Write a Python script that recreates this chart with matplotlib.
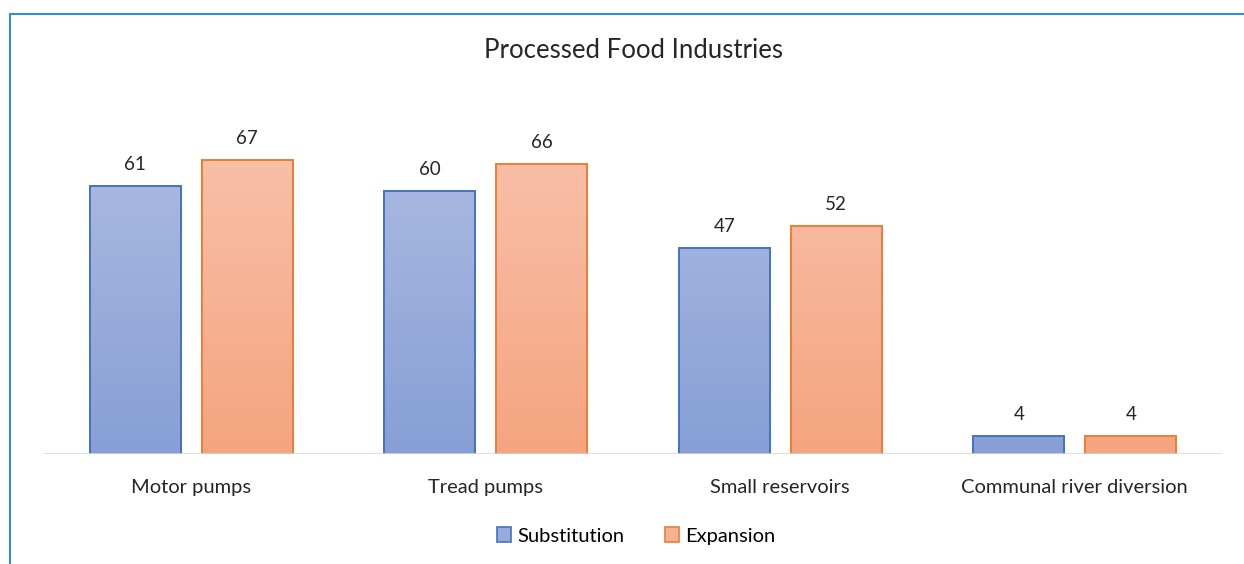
import numpy as np
import matplotlib.pyplot as plt
from matplotlib.colors import LinearSegmentedColormap
from matplotlib.patches import Patch
from matplotlib.lines import Line2D

categories = ["Motor pumps", "Tread pumps", "Small reservoirs", "Communal river diversion"]
substitution = [61, 60, 47, 4]
expansion = [67, 66, 52, 4]
series_names = ["Substitution", "Expansion"]

plt.rcParams['font.family'] = ['Lato', 'DejaVu Sans']

fig = plt.figure(figsize=(12.44, 5.64), dpi=100)
# axes: x 44..1222 px, baseline at y=454 px
ax = fig.add_axes([44 / 1244, (564 - 454) / 564, 1178 / 1244, 351 / 564])
ax.set_xlim(-0.5, len(categories) - 0.5)
ax.set_ylim(0, 80)

x = np.arange(len(categories))
width = 0.309
offset = 0.19

blue_cmap = LinearSegmentedColormap.from_list("b", ["#879FD6", "#AAB9E1"])
orange_cmap = LinearSegmentedColormap.from_list("o", ["#F5A47F", "#F8BFA7"])

styles = [("#4472C4", blue_cmap), ("#ED7D31", orange_cmap)]
for k, vals in enumerate([substitution, expansion]):
    edge, cmap = styles[k]
    xs = x + (-offset if k == 0 else offset)
    bars = ax.bar(xs, vals, width=width, facecolor='none', edgecolor=edge, linewidth=1.4, zorder=3)
    for b, v in zip(bars, vals):
        grad = np.linspace(0, 1, 256).reshape(-1, 1)
        x0 = b.get_x()
        im = ax.imshow(grad, cmap=cmap, origin='lower', aspect='auto',
                       extent=[x0, x0 + width, 0, 67], zorder=2)
        im.set_clip_path(b)
        ax.text(b.get_x() + width / 2, v + 3.0, str(v), ha='center', va='bottom',
                fontsize=13.5, color='#262626')

ax.axhline(0, color='#D9D9D9', linewidth=1.2, zorder=4)
for s in ax.spines.values():
    s.set_visible(False)
ax.set_yticks([])
ax.set_xticks(x)
ax.set_xticklabels(categories, fontsize=14.5, color='#262626')
ax.tick_params(axis='x', length=0, pad=18)

fig.text(633 / 1244, 1 - 51 / 564, "Processed Food Industries", ha='center', va='center',
         fontsize=18.5, color='#262626')

handles = [Patch(facecolor='#98ACDB', edgecolor='#4472C4', linewidth=1.2),
           Patch(facecolor='#F6B193', edgecolor='#ED7D31', linewidth=1.2)]
fig.legend(handles, series_names, loc='center', bbox_to_anchor=(636 / 1244, 1 - 536 / 564),
           ncol=2, frameon=False, fontsize=14.5, handlelength=0.7, handleheight=0.7,
           handletextpad=0.3, columnspacing=2.0)

# chart border (top and left visible)
fig.add_artist(Line2D([9.5 / 1244, 9.5 / 1244], [0, 1 - 14 / 564], color='#2F8FD8', linewidth=1.5))
fig.add_artist(Line2D([9.5 / 1244, 1], [1 - 14 / 564, 1 - 14 / 564], color='#2F8FD8', linewidth=1.5))

fig.savefig("out.png", dpi=100, facecolor='white')
